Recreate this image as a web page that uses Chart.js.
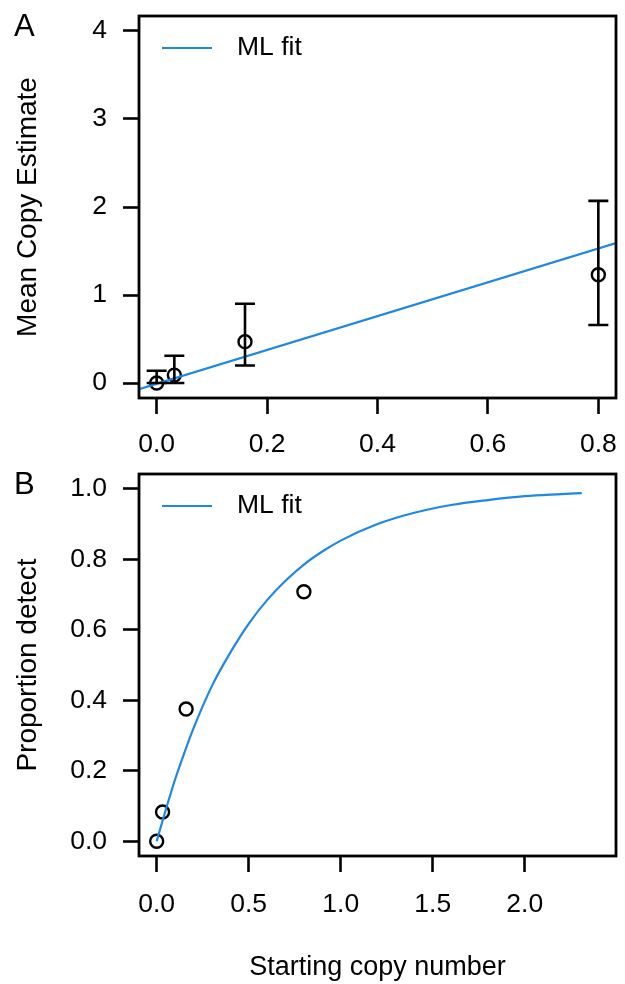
<!DOCTYPE html>
<html>
<head>
<meta charset="utf-8">
<script src="https://cdn.jsdelivr.net/npm/chart.js@4"></script>
<style>
  body { margin: 0; background: #fff; width: 625px; height: 984px; position: relative; overflow: hidden; }
  canvas { position: absolute; left: 0; }
</style>
</head>
<body>
<canvas id="chartA" width="625" height="460" style="top:0px"></canvas>
<canvas id="chartB" width="625" height="524" style="top:460px"></canvas>
<script>
// panel A - mean copy estimate with intervals
var startCopies = [0, 0.032, 0.16, 0.8];
var meanEstimate = [0.0, 0.09, 0.47, 1.23];
var estimateLow = [0.0, 0.0, 0.2, 0.66];
var estimateHigh = [0.14, 0.31, 0.9, 2.07];
var fitAx = [-0.032, 0.832];
var fitAy = [-0.07, 1.59];
var ticksAx = [0, 0.2, 0.4, 0.6, 0.8];
var ticksAy = [0, 1, 2, 3, 4];

// panel B - proportion detect
var propDetect = [0.0, 0.083, 0.375, 0.708];
var fitBx = [0, 0.05, 0.1, 0.15, 0.2, 0.3, 0.4, 0.5, 0.6, 0.7, 0.8, 0.9, 1.0, 1.2, 1.4, 1.6, 1.8, 2.0, 2.2, 2.31];
var fitBy = [0, 0.09, 0.175, 0.25, 0.32, 0.44, 0.535, 0.617, 0.684, 0.739, 0.785, 0.822, 0.853, 0.9, 0.932, 0.954, 0.968, 0.979, 0.985, 0.988];
var ticksBx = [0, 0.5, 1.0, 1.5, 2.0];
var ticksBy = [0, 0.2, 0.4, 0.6, 0.8, 1.0];

var FONT = "'Liberation Sans', Arial, sans-serif";
var BLUE = 'rgb(30, 136, 229)';
Chart.defaults.font.family = FONT;
Chart.defaults.font.size = 26.5;
Chart.defaults.color = '#000';

function pts(xs, ys) {
  return xs.map(function (x, i) { return { x: x, y: ys[i] }; });
}

function setTicks(list) {
  return function (scale) {
    scale.ticks = list.map(function (v) { return { value: v }; });
  };
}

// box, legend, panel letter, error bars
function panelPlugin(letter, legendY, bars) {
  return {
    id: 'panel' + letter,
    afterDatasetsDraw: function (chart) {
      var ctx = chart.ctx;
      var a = chart.chartArea;
      ctx.save();
      ctx.strokeStyle = '#000';
      ctx.lineWidth = 2.6;
      if (bars) {
        var xs = chart.scales.x, ys = chart.scales.y;
        for (var i = 0; i < startCopies.length; i++) {
          var px = xs.getPixelForValue(startCopies[i]);
          var lo = ys.getPixelForValue(estimateLow[i]);
          var hi = ys.getPixelForValue(estimateHigh[i]);
          ctx.beginPath();
          ctx.moveTo(px, lo); ctx.lineTo(px, hi);
          ctx.moveTo(px - 10, lo); ctx.lineTo(px + 10, lo);
          ctx.moveTo(px - 10, hi); ctx.lineTo(px + 10, hi);
          ctx.stroke();
        }
      }
      ctx.lineWidth = 2.8;
      ctx.strokeRect(a.left, a.top, a.right - a.left, a.bottom - a.top);
      // legend
      ctx.strokeStyle = BLUE;
      ctx.lineWidth = 2.2;
      ctx.beginPath();
      ctx.moveTo(162, legendY); ctx.lineTo(212, legendY);
      ctx.stroke();
      ctx.fillStyle = '#000';
      ctx.font = '26.5px ' + FONT;
      ctx.textBaseline = 'middle';
      ctx.fillText('ML fit', 237, legendY);
      ctx.font = '31px ' + FONT;
      ctx.fillText(letter, 14, legendY - 21);
      ctx.restore();
    }
  };
}

function axisOpts(min, max, list, fmt, title, fitSize, isX, pad) {
  return {
    type: 'linear',
    min: min,
    max: max,
    afterBuildTicks: setTicks(list),
    afterFit: function (scale) {
      if (isX) scale.height = fitSize; else scale.width = fitSize;
      scale.paddingTop = 0; scale.paddingBottom = 0;
      scale.paddingLeft = 0; scale.paddingRight = 0;
    },
    border: { display: false },
    grid: { drawOnChartArea: false, drawTicks: true, tickLength: 16, tickColor: '#000', tickWidth: 2.6 },
    ticks: { padding: pad, maxRotation: 0, autoSkip: false, callback: fmt },
    title: title
  };
}

var chartA = new Chart(document.getElementById('chartA').getContext('2d'), {
  type: 'scatter',
  data: {
    datasets: [{
      data: pts(fitAx, fitAy),
      showLine: true,
      borderColor: BLUE,
      borderWidth: 2.2,
      pointRadius: 0
    }, {
      data: pts(startCopies, meanEstimate),
      pointRadius: 6.5,
      borderColor: '#000',
      borderWidth: 2.4,
      backgroundColor: 'rgba(0,0,0,0)'
    }]
  },
  options: {
    responsive: false,
    animation: false,
    layout: { padding: { top: 16, right: 9, left: 0, bottom: 0 } },
    plugins: { legend: { display: false }, tooltip: { enabled: false } },
    scales: {
      x: axisOpts(-0.032, 0.832, ticksAx, function (v) { return v.toFixed(1); },
        { display: false }, 62, true, 15),
      y: axisOpts(-0.17, 4.17, ticksAy, function (v) { return v.toFixed(0); },
        { display: true, text: 'Mean Copy Estimate', font: { size: 28 }, padding: { top: 11, bottom: 0 } }, 139, false, 16)
    }
  },
  plugins: [panelPlugin('A', 48, true)]
});

var chartB = new Chart(document.getElementById('chartB').getContext('2d'), {
  type: 'scatter',
  data: {
    datasets: [{
      data: pts(fitBx, fitBy),
      showLine: true,
      borderColor: BLUE,
      borderWidth: 2.2,
      pointRadius: 0,
      cubicInterpolationMode: 'monotone'
    }, {
      data: pts(startCopies, propDetect),
      pointRadius: 6.5,
      borderColor: '#000',
      borderWidth: 2.4,
      backgroundColor: 'rgba(0,0,0,0)'
    }]
  },
  options: {
    responsive: false,
    animation: false,
    layout: { padding: { top: 14, right: 9, left: 0, bottom: 0 } },
    plugins: { legend: { display: false }, tooltip: { enabled: false } },
    scales: {
      x: axisOpts(-0.096, 2.496, ticksBx, function (v) { return v.toFixed(1); },
        { display: true, text: 'Starting copy number', font: { size: 27 }, padding: { top: 0, bottom: 0 } }, 128, true, 17),
      y: axisOpts(-0.042, 1.042, ticksBy, function (v) { return v.toFixed(1); },
        { display: true, text: 'Proportion detect', font: { size: 28 }, padding: { top: 11, bottom: 0 } }, 139, false, 16)
    }
  },
  plugins: [panelPlugin('B', 46, false)]
});
</script>
</body>
</html>
